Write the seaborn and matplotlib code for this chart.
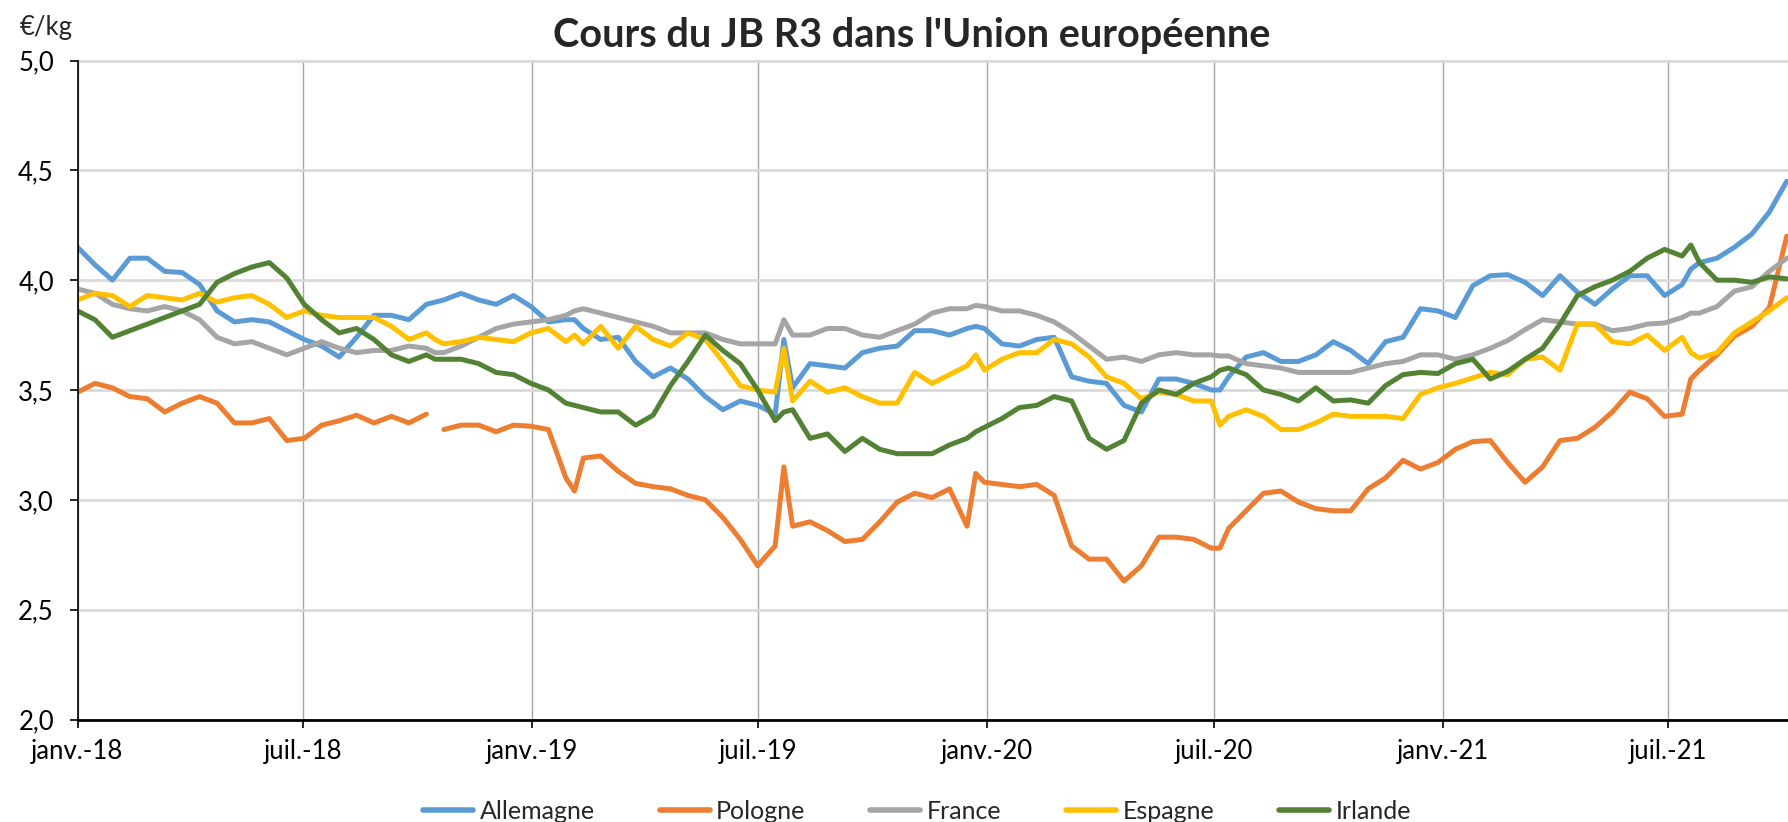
import numpy as np
import pandas as pd
import seaborn as sns
import matplotlib.pyplot as plt
from matplotlib.ticker import FuncFormatter

nan = np.nan

# semaine de relevé, comptée depuis le 1er janvier 2018
weeks = (list(range(0, 41, 2)) + [41] + list(range(42, 57, 2)) + [57]
         + list(range(58, 81, 2)) + [81] + list(range(82, 103, 2)) + [103]
         + list(range(104, 131, 2)) + [131] + list(range(132, 185, 2)) + [185]
         + list(range(186, 197, 2)))

allemagne = [4.15, 4.07, 4.00, 4.10, 4.10, 4.04, 4.035, 3.98, 3.86, 3.81, 3.82, 3.81, 3.77, 3.73, 3.70, 3.65, 3.74,
             3.84, 3.84, 3.82, 3.89, 3.90,
             3.91, 3.94, 3.91, 3.89, 3.93, 3.88, 3.81, 3.82, 3.82,
             3.78, 3.73, 3.74, 3.63, 3.56, 3.60, 3.55, 3.47, 3.41, 3.45, 3.43, 3.39, 3.73,
             3.51, 3.62, 3.61, 3.60, 3.67, 3.69, 3.70, 3.77, 3.77, 3.75, 3.78, 3.79,
             3.78, 3.71, 3.70, 3.73, 3.74, 3.56, 3.54, 3.53, 3.43, 3.40, 3.55, 3.55, 3.53, 3.50, 3.50,
             3.56, 3.65, 3.67, 3.63, 3.63, 3.66, 3.72, 3.68, 3.62, 3.72, 3.74, 3.87, 3.86, 3.83,
             3.975, 4.02, 4.025, 3.99, 3.93, 4.02, 3.945, 3.89, 3.96, 4.02, 4.02, 3.93, 3.98, 4.05,
             4.08, 4.10, 4.15, 4.21, 4.31, 4.45]

pologne = [3.49, 3.53, 3.51, 3.47, 3.46, 3.40, 3.44, 3.47, 3.44, 3.35, 3.35, 3.37, 3.27, 3.28, 3.34, 3.36, 3.385,
           3.35, 3.38, 3.35, 3.39, nan,
           3.32, 3.34, 3.34, 3.31, 3.34, 3.335, 3.32, 3.10, 3.04,
           3.19, 3.20, 3.13, 3.075, 3.06, 3.05, 3.02, 3.00, 2.92, 2.82, 2.70, 2.79, 3.15,
           2.88, 2.90, 2.86, 2.81, 2.82, 2.90, 2.99, 3.03, 3.01, 3.05, 2.88, 3.12,
           3.08, 3.07, 3.06, 3.07, 3.02, 2.79, 2.73, 2.73, 2.63, 2.70, 2.83, 2.83, 2.82, 2.78, 2.78,
           2.87, 2.95, 3.03, 3.04, 2.99, 2.96, 2.95, 2.95, 3.05, 3.10, 3.18, 3.14, 3.17, 3.23,
           3.265, 3.27, 3.17, 3.08, 3.15, 3.27, 3.28, 3.33, 3.40, 3.49, 3.46, 3.38, 3.39, 3.55,
           3.59, 3.66, 3.745, 3.79, 3.875, 4.20]

france = [3.96, 3.94, 3.89, 3.87, 3.86, 3.88, 3.86, 3.82, 3.74, 3.71, 3.72, 3.69, 3.66, 3.69, 3.72, 3.69, 3.67,
          3.68, 3.68, 3.70, 3.69, 3.67,
          3.67, 3.70, 3.74, 3.78, 3.80, 3.81, 3.82, 3.84, 3.86,
          3.87, 3.85, 3.83, 3.81, 3.79, 3.76, 3.76, 3.76, 3.73, 3.71, 3.71, 3.71, 3.82,
          3.75, 3.75, 3.78, 3.78, 3.75, 3.74, 3.77, 3.80, 3.85, 3.87, 3.87, 3.885,
          3.88, 3.86, 3.86, 3.84, 3.81, 3.76, 3.70, 3.64, 3.65, 3.63, 3.66, 3.67, 3.66, 3.66, 3.655,
          3.655, 3.62, 3.61, 3.60, 3.58, 3.58, 3.58, 3.58, 3.60, 3.62, 3.63, 3.66, 3.66, 3.64,
          3.66, 3.69, 3.725, 3.775, 3.82, 3.81, 3.80, 3.80, 3.77, 3.78, 3.80, 3.805, 3.83, 3.85,
          3.85, 3.88, 3.95, 3.97, 4.04, 4.10]

espagne = [3.91, 3.94, 3.93, 3.88, 3.93, 3.92, 3.91, 3.94, 3.90, 3.92, 3.93, 3.89, 3.83, 3.86, 3.84, 3.83, 3.83,
           3.83, 3.79, 3.73, 3.76, 3.73,
           3.71, 3.72, 3.74, 3.73, 3.72, 3.76, 3.78, 3.72, 3.75,
           3.71, 3.79, 3.69, 3.79, 3.73, 3.70, 3.76, 3.73, 3.63, 3.52, 3.50, 3.49, 3.69,
           3.45, 3.54, 3.49, 3.51, 3.47, 3.44, 3.44, 3.58, 3.53, 3.57, 3.61, 3.66,
           3.59, 3.64, 3.67, 3.67, 3.73, 3.71, 3.65, 3.56, 3.53, 3.46, 3.49, 3.48, 3.45, 3.45, 3.34,
           3.38, 3.41, 3.38, 3.32, 3.32, 3.35, 3.39, 3.38, 3.38, 3.38, 3.37, 3.48, 3.51, 3.53,
           3.555, 3.58, 3.57, 3.64, 3.65, 3.59, 3.80, 3.80, 3.72, 3.71, 3.75, 3.68, 3.74, 3.67,
           3.645, 3.67, 3.76, 3.81, 3.86, 3.92]

irlande = [3.86, 3.82, 3.74, 3.77, 3.80, 3.83, 3.86, 3.89, 3.99, 4.03, 4.06, 4.08, 4.01, 3.89, 3.82, 3.76, 3.78,
           3.73, 3.66, 3.63, 3.66, 3.64,
           3.64, 3.64, 3.62, 3.58, 3.57, 3.53, 3.50, 3.44, 3.43,
           3.42, 3.40, 3.40, 3.34, 3.385, 3.52, 3.63, 3.75, 3.68, 3.62, 3.50, 3.36, 3.40,
           3.41, 3.28, 3.30, 3.22, 3.28, 3.23, 3.21, 3.21, 3.21, 3.25, 3.28, 3.31,
           3.33, 3.37, 3.42, 3.43, 3.47, 3.45, 3.28, 3.23, 3.27, 3.44, 3.50, 3.48, 3.53, 3.56, 3.59,
           3.60, 3.57, 3.50, 3.48, 3.45, 3.51, 3.45, 3.455, 3.44, 3.52, 3.57, 3.58, 3.575, 3.62,
           3.64, 3.55, 3.585, 3.64, 3.69, 3.80, 3.93, 3.97, 4.00, 4.04, 4.10, 4.14, 4.11, 4.16,
           4.08, 4.00, 4.00, 3.99, 4.015, 4.006]

countries = ['Allemagne', 'Pologne', 'France', 'Espagne', 'Irlande']
colors = {'Allemagne': '#5B9BD5', 'Pologne': '#ED7D31', 'France': '#A5A5A5',
          'Espagne': '#FFC000', 'Irlande': '#548235'}

tick_dates = ['2018-01-01', '2018-07-01', '2019-01-01', '2019-07-01', '2020-01-01',
              '2020-07-01', '2021-01-01', '2021-07-01']
tick_labels = ['janv.-18', 'juil.-18', 'janv.-19', 'juil.-19', 'janv.-20',
               'juil.-20', 'janv.-21', 'juil.-21']


def main():
    start = pd.Timestamp('2018-01-01')
    dates = start + pd.to_timedelta(np.array(weeks) * 7, unit='D')

    # long table; 'segment' splits the Pologne line where a week is missing
    frames = []
    for name, vals in zip(countries, [allemagne, pologne, france, espagne, irlande]):
        d = pd.DataFrame({'date': dates, 'prix': vals, 'pays': name})
        d['segment'] = d['prix'].isna().cumsum()
        frames.append(d.dropna())
    df = pd.concat(frames, ignore_index=True)

    sns.set_theme(style='white')
    plt.rcParams['font.family'] = ['Lato', 'DejaVu Sans']

    fig = plt.figure(figsize=(17.88, 8.22), dpi=100)
    ax = fig.add_axes([77.5 / 1788, 1 - 719.5 / 822, 1 - 77.5 / 1788, 659 / 822])

    sns.lineplot(data=df, x='date', y='prix', hue='pays', hue_order=countries,
                 units='segment', estimator=None, palette=colors, linewidth=3.6,
                 ax=ax)

    ax.set_xlim(start, start + pd.Timedelta(days=1373))
    ax.set_ylim(2.0, 5.0)
    ax.set_yticks(np.arange(2.0, 5.01, 0.5))
    ax.yaxis.set_major_formatter(FuncFormatter(lambda v, p: f'{v:.1f}'.replace('.', ',')))
    ax.set_xticks(pd.to_datetime(tick_dates))
    ax.set_xticklabels(tick_labels)
    ax.set_xlabel('')
    ax.set_ylabel('')

    ax.grid(axis='y', color='#D9D9D9', linewidth=2)
    ax.grid(axis='x', color='#A6A6A6', linewidth=1)
    ax.set_axisbelow(True)
    for s in ['top', 'right']:
        ax.spines[s].set_visible(False)
    ax.spines['left'].set_color('black')
    ax.spines['left'].set_linewidth(1.2)
    ax.spines['bottom'].set_color('black')
    ax.spines['bottom'].set_linewidth(2)
    ax.tick_params(axis='both', which='major', direction='out', length=6, width=1.2,
                   color='black', labelsize=18.5, labelcolor='black')
    ax.tick_params(axis='y', pad=11, left=True)
    ax.tick_params(axis='x', pad=8, bottom=True)

    handles, labels = ax.get_legend_handles_labels()
    ax.get_legend().remove()
    leg = fig.legend(handles, labels, loc='center', bbox_to_anchor=(0.513, 0.013), ncol=5,
                     frameon=False, fontsize=18, handlelength=2.0, handletextpad=0.25,
                     columnspacing=2.6)
    for line in leg.get_lines():
        line.set_linewidth(4)

    fig.text(0.51, 0.957, "Cours du JB R3 dans l'Union européenne", ha='center', va='center',
             fontsize=28.5, fontweight='bold')
    fig.text(0.011, 0.966, '€/kg', ha='left', va='center', fontsize=18.5)

    fig.savefig('out.png', dpi=100)


if __name__ == '__main__':
    main()
